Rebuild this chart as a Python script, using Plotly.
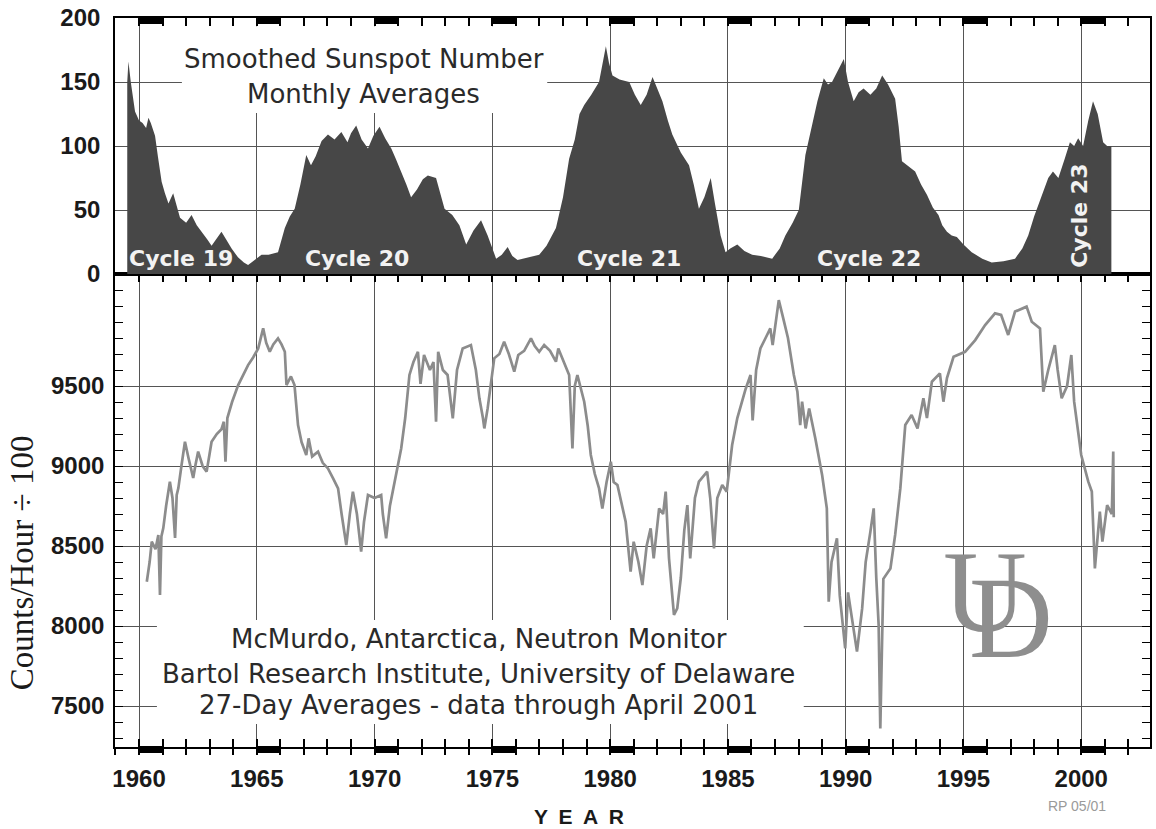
import plotly.graph_objects as go

# ---------------- data ----------------
ss_year = [1959.50, 1959.55, 1959.65, 1959.75, 1959.83, 1960.00, 1960.15, 1960.30, 1960.40, 1960.50,
           1960.68, 1960.80, 1960.96, 1961.10, 1961.25, 1961.45, 1961.60, 1961.74, 1962.00, 1962.23,
           1962.45, 1962.66, 1962.90, 1963.08, 1963.30, 1963.50, 1963.70, 1963.93, 1964.20, 1964.45,
           1964.63, 1964.90, 1965.20, 1965.50, 1965.90, 1966.19, 1966.40, 1966.61, 1966.85, 1967.10,
           1967.30, 1967.50, 1967.75, 1968.02, 1968.30, 1968.59, 1968.85, 1969.00, 1969.22, 1969.45,
           1969.72, 1969.95, 1970.21, 1970.45, 1970.71, 1970.90, 1971.13, 1971.35, 1971.55, 1971.80,
           1972.05, 1972.26, 1972.61, 1972.80, 1972.97, 1973.30, 1973.60, 1973.89, 1974.20, 1974.52,
           1974.80, 1975.16, 1975.40, 1975.65, 1975.85, 1976.07, 1976.50, 1976.99, 1977.30, 1977.70,
           1978.00, 1978.26, 1978.50, 1978.70, 1978.90, 1979.20, 1979.53, 1979.70, 1979.82, 1979.95,
           1980.10, 1980.40, 1980.81, 1981.05, 1981.30, 1981.55, 1981.80, 1982.00, 1982.22, 1982.45,
           1982.64, 1983.00, 1983.35, 1983.55, 1983.77, 1984.00, 1984.27, 1984.45, 1984.69, 1984.90,
           1985.10, 1985.40, 1985.70, 1986.03, 1986.40, 1986.88, 1987.20, 1987.44, 1987.75, 1988.01,
           1988.29, 1988.57, 1988.80, 1989.07, 1989.25, 1989.42, 1989.70, 1989.92, 1990.10, 1990.34,
           1990.55, 1990.76, 1991.05, 1991.30, 1991.55, 1991.80, 1992.10, 1992.25, 1992.39, 1992.60,
           1992.95, 1993.20, 1993.45, 1993.70, 1993.94, 1994.10, 1994.30, 1994.50, 1994.72, 1995.00,
           1995.35, 1995.80, 1996.20, 1996.70, 1997.19, 1997.50, 1997.75, 1998.00, 1998.30, 1998.60,
           1998.80, 1999.03, 1999.30, 1999.52, 1999.70, 1999.87, 2000.08, 2000.30, 2000.50, 2000.70,
           2000.93, 2001.10, 2001.28]
ss_value = [150, 166, 150, 135, 127, 120, 118, 114, 122, 118,
            108, 92, 72, 63, 55, 63, 52, 44, 40, 46,
            38, 33, 27, 22, 28, 33, 27, 20, 13, 9,
            7, 11, 15, 15, 17, 36, 45, 51, 70, 93,
            85, 92, 104, 109, 105, 111, 103, 110, 116, 105,
            98, 108, 115, 106, 98, 90, 80, 70, 60, 66,
            74, 77, 75, 62, 51, 46, 38, 23, 34, 42,
            30, 12, 15, 21, 14, 11, 13, 15, 22, 36,
            60, 90, 105, 125, 132, 140, 150, 165, 178, 165,
            155, 152, 150, 140, 132, 140, 154, 145, 135, 120,
            109, 95, 85, 70, 51, 60, 75, 55, 30, 17,
            20, 23, 18, 15, 14, 12, 20, 30, 40, 50,
            93, 116, 135, 153, 148, 150, 160, 168, 150, 135,
            142, 145, 140, 145, 155, 148, 137, 115, 88, 85,
            80, 70, 62, 52, 46, 38, 33, 30, 29, 23,
            17, 12, 9, 10, 12, 20, 30, 45, 60, 75,
            80, 75, 90, 103, 100, 106, 100, 120, 135, 125,
            103, 100, 100]

nm_year = [1960.33, 1960.45, 1960.54, 1960.70, 1960.82, 1960.89, 1960.95, 1961.03, 1961.15, 1961.31,
           1961.42, 1961.53, 1961.60, 1961.67, 1961.80, 1961.95, 1962.10, 1962.30, 1962.40, 1962.51,
           1962.70, 1962.87, 1963.00, 1963.08, 1963.30, 1963.50, 1963.60, 1963.67, 1963.75, 1963.95,
           1964.21, 1964.45, 1964.63, 1964.85, 1965.06, 1965.27, 1965.40, 1965.55, 1965.70, 1965.90,
           1966.05, 1966.19, 1966.26, 1966.45, 1966.60, 1966.75, 1966.90, 1967.10, 1967.20, 1967.35,
           1967.60, 1967.80, 1968.02, 1968.25, 1968.45, 1968.60, 1968.80, 1968.95, 1969.08, 1969.25,
           1969.43, 1969.55, 1969.72, 1970.00, 1970.28, 1970.35, 1970.49, 1970.65, 1970.85, 1971.13,
           1971.30, 1971.48, 1971.65, 1971.84, 1971.95, 1972.10, 1972.35, 1972.50, 1972.61, 1972.70,
           1972.90, 1973.10, 1973.32, 1973.50, 1973.74, 1974.09, 1974.30, 1974.45, 1974.60, 1974.66,
           1974.80, 1975.08, 1975.30, 1975.50, 1975.70, 1975.93, 1976.10, 1976.35, 1976.64, 1976.80,
           1976.99, 1977.20, 1977.45, 1977.70, 1977.80, 1978.05, 1978.26, 1978.40, 1978.50, 1978.61,
           1978.75, 1978.90, 1979.05, 1979.18, 1979.35, 1979.53, 1979.67, 1979.85, 1980.03, 1980.15,
           1980.31, 1980.50, 1980.66, 1980.87, 1981.00, 1981.20, 1981.37, 1981.55, 1981.72, 1981.85,
           1982.08, 1982.25, 1982.36, 1982.50, 1982.71, 1982.85, 1983.00, 1983.15, 1983.28, 1983.40,
           1983.60, 1983.77, 1984.12, 1984.25, 1984.41, 1984.55, 1984.76, 1984.95, 1985.18, 1985.40,
           1985.60, 1985.75, 1985.96, 1986.05, 1986.20, 1986.38, 1986.60, 1986.80, 1986.90, 1987.16,
           1987.35, 1987.55, 1987.80, 1987.95, 1988.07, 1988.15, 1988.30, 1988.45, 1988.71, 1989.00,
           1989.20, 1989.28, 1989.40, 1989.63, 1989.75, 1989.98, 1990.10, 1990.30, 1990.48, 1990.70,
           1990.85, 1991.05, 1991.19, 1991.30, 1991.40, 1991.47, 1991.60, 1991.90, 1992.10, 1992.32,
           1992.53, 1992.80, 1993.05, 1993.30, 1993.45, 1993.66, 1994.00, 1994.15, 1994.30, 1994.58,
           1995.07, 1995.50, 1995.92, 1996.34, 1996.60, 1996.90, 1997.19, 1997.68, 1997.90, 1998.25,
           1998.39, 1998.60, 1998.88, 1999.00, 1999.17, 1999.40, 1999.58, 1999.70, 2000.00, 2000.30,
           2000.45, 2000.58, 2000.79, 2000.90, 2001.10, 2001.30, 2001.36, 2001.38]
nm_value = [8277, 8400, 8527, 8480, 8569, 8194, 8560, 8612, 8750, 8902,
            8800, 8550, 8820, 8862, 9000, 9152, 9050, 8925, 9010, 9090,
            9000, 8965, 9080, 9152, 9200, 9230, 9277, 9027, 9300, 9400,
            9506, 9580, 9631, 9680, 9735, 9860, 9770, 9714, 9760, 9798,
            9760, 9714, 9506, 9560, 9506, 9256, 9150, 9069, 9173, 9060,
            9090, 9020, 8985, 8920, 8860, 8700, 8506, 8700, 8840, 8700,
            8465, 8650, 8819, 8800, 8819, 8700, 8548, 8750, 8902, 9110,
            9300, 9569, 9650, 9714, 9514, 9694, 9600, 9650, 9277, 9714,
            9600, 9569, 9298, 9600, 9735, 9756, 9600, 9423, 9300, 9235,
            9360, 9673, 9700, 9777, 9700, 9590, 9694, 9720, 9798, 9750,
            9714, 9756, 9720, 9652, 9735, 9650, 9569, 9110, 9500, 9569,
            9480, 9402, 9250, 9069, 8950, 8860, 8735, 8900, 9027, 8900,
            8881, 8750, 8652, 8340, 8527, 8400, 8256, 8500, 8610, 8423,
            8735, 8700, 8840, 8423, 8069, 8110, 8300, 8600, 8756, 8423,
            8800, 8902, 8965, 8800, 8485, 8800, 8881, 8840, 9131, 9300,
            9402, 9480, 9569, 9285, 9600, 9735, 9800, 9860, 9756, 10037,
            9923, 9800, 9569, 9465, 9256, 9402, 9235, 9360, 9173, 8944,
            8735, 8152, 8400, 8548, 8190, 7860, 8210, 8000, 7840, 8110,
            8400, 8590, 8735, 8300, 8006, 7360, 8295, 8360, 8569, 8860,
            9256, 9319, 9235, 9423, 9300, 9527, 9579, 9402, 9550, 9683,
            9714, 9787, 9881, 9954, 9944, 9819, 9965, 9996, 9902, 9860,
            9465, 9600, 9756, 9600, 9423, 9500, 9694, 9402, 9069, 8902,
            8840, 8360, 8715, 8527, 8756, 8700, 9090, 8680]

cycle_labels = ["Cycle 19", "Cycle 20", "Cycle 21", "Cycle 22", "Cycle 23"]
cycle_year = [1961.77, 1969.26, 1980.81, 1991.00, 1999.95]
cycle_value = [12.2, 12.2, 12.2, 12.2, 45.5]

x_tick_years = [1960, 1965, 1970, 1975, 1980, 1985, 1990, 1995, 2000]
ss_ticks = [0, 50, 100, 150, 200]
nm_ticks = [7500, 8000, 8500, 9000, 9500]

top_title = ["Smoothed Sunspot Number", "Monthly Averages"]
bottom_title = ["McMurdo, Antarctica, Neutron Monitor",
                "Bartol Research Institute, University of Delaware",
                "27-Day Averages - data through April 2001"]

# ---------------- styling ----------------
X_RANGE = [1958.98, 2002.92]
SS_RANGE = [0, 200]
NM_RANGE = [7244, 10200]
SPLIT = 473 / 729
GRID = "#555555"
AX = "black"
TICKFONT = dict(family="Liberation Sans", size=24, color="#1a1a1a", weight="bold")
TXT = dict(family="DejaVu Sans", size=26, color="#2a2a2a")

fig = go.Figure()

fig.add_trace(go.Scatter(
    x=ss_year, y=ss_value, xaxis="x2", yaxis="y2", mode="lines",
    line=dict(width=0, color="#474747"), fill="tozeroy", fillcolor="#474747",
    hoverinfo="skip", showlegend=False))

fig.add_trace(go.Scatter(
    x=nm_year, y=nm_value, xaxis="x", yaxis="y", mode="lines",
    line=dict(width=2.7, color="#8c8c8c"), hoverinfo="skip", showlegend=False))

# helper trace so the overlay axis (crossing ticks) is drawn
fig.add_trace(go.Scatter(x=[], y=[], xaxis="x3", yaxis="y", showlegend=False))

minor_x_out = dict(tickmode="linear", tick0=1960, dtick=1, ticks="outside",
                   ticklen=6, tickwidth=1.6, tickcolor=AX, showgrid=False)
minor_x_in = dict(tickmode="linear", tick0=1960, dtick=1, ticks="inside",
                  ticklen=8, tickwidth=1.6, tickcolor=AX, showgrid=False)

fig.update_layout(
    width=1156, height=829,
    margin=dict(l=115, r=4, t=18, b=82),
    paper_bgcolor="white", plot_bgcolor="white",
    showlegend=False,
    xaxis=dict(
        anchor="y", domain=[0, 1], range=X_RANGE, tickmode="array",
        tickvals=x_tick_years, ticktext=[str(v) for v in x_tick_years],
        ticks="outside", ticklen=6, tickwidth=1.6, tickcolor=AX,
        minor=minor_x_out, showgrid=True, gridcolor=GRID, gridwidth=1,
        showline=True, linecolor=AX, linewidth=1.6, zeroline=False,
        tickfont=TICKFONT, ticklabelstandoff=3),
    xaxis3=dict(
        overlaying="x", anchor="y", range=X_RANGE, tickmode="array",
        tickvals=x_tick_years, ticks="inside", ticklen=8, tickwidth=1.6,
        tickcolor=AX, minor=minor_x_in, showticklabels=False, showgrid=False,
        showline=True, linecolor=AX, linewidth=1.6, mirror="ticks", zeroline=False),
    xaxis2=dict(
        anchor="y2", side="top", range=X_RANGE, tickmode="array",
        tickvals=x_tick_years, ticks="inside", ticklen=8, tickwidth=1.6,
        tickcolor=AX, minor=minor_x_in, showticklabels=False, showgrid=True,
        gridcolor=GRID, gridwidth=1, showline=True, linecolor=AX, linewidth=1.6,
        mirror=True, zeroline=False),
    yaxis=dict(
        domain=[0, SPLIT], range=NM_RANGE, tickmode="array", tickvals=nm_ticks,
        ticktext=[str(v) for v in nm_ticks], ticks="inside", ticklen=8,
        tickwidth=1.4, tickcolor=AX,
        minor=dict(tickmode="linear", tick0=7500, dtick=100, ticks="inside",
                   ticklen=8, tickwidth=1.4, tickcolor=AX, showgrid=False),
        showgrid=True, gridcolor=GRID, gridwidth=1, showline=True, linecolor=AX,
        linewidth=1.6, mirror="ticks", zeroline=False, tickfont=TICKFONT,
        ticklabelstandoff=4),
    yaxis2=dict(
        domain=[SPLIT, 1], range=SS_RANGE, tickmode="array", tickvals=ss_ticks,
        ticktext=[str(v) for v in ss_ticks], ticks="", showgrid=True,
        gridcolor=GRID, gridwidth=1, showline=True, linecolor=AX, linewidth=1.6,
        mirror=True, zeroline=False, tickfont=TICKFONT, ticklabelstandoff=8),
)

shapes = []
# white boxes behind the two text blocks (cover the grid only)
shapes.append(dict(type="rect", xref="x2", yref="y2", x0=1961.82, x1=1977.33,
                   y0=125.8, y1=193.5, fillcolor="white", line=dict(width=0),
                   layer="between"))
shapes.append(dict(type="rect", xref="x", yref="y", x0=1960.76, x1=1988.22,
                   y0=7388, y1=8037, fillcolor="white", line=dict(width=0),
                   layer="between"))
# thick year bars at the labelled years
for yr in x_tick_years:
    shapes.append(dict(type="rect", xref="x", yref="y domain", x0=yr, x1=yr + 1,
                       ysizemode="pixel", yanchor=0, y0=-6, y1=1,
                       fillcolor="black", line=dict(width=0), layer="above"))
    shapes.append(dict(type="rect", xref="x2", yref="y2 domain", x0=yr, x1=yr + 1,
                       ysizemode="pixel", yanchor=1, y0=-6, y1=0,
                       fillcolor="black", line=dict(width=0), layer="above"))
fig.update_layout(shapes=shapes)

ann = []
for lab, xv, yv in zip(cycle_labels, cycle_year, cycle_value):
    ann.append(dict(x=xv, y=yv, xref="x2", yref="y2", text=lab, showarrow=False,
                    textangle=-90 if lab.endswith("23") else 0,
                    font=dict(family="DejaVu Sans", size=22, color="#f2f2f2",
                              weight="bold"),
                    xanchor="center", yanchor="middle"))

for i, line in enumerate(top_title):
    ann.append(dict(x=1969.53, y=[168.0, 140.6][i], xref="x2", yref="y2",
                    text=line, showarrow=False, font=TXT,
                    xanchor="center", yanchor="middle"))
for i, line in enumerate(bottom_title):
    ann.append(dict(x=1974.43, y=[7919, 7702, 7506][i], xref="x", yref="y",
                    text=line, showarrow=False, font=TXT,
                    xanchor="center", yanchor="middle"))

ann.append(dict(x=0.4484, y=-0.096, xref="paper", yref="paper",
                text="Y\u2002E\u2002A\u2002R", showarrow=False,
                font=dict(family="Liberation Sans", size=21, color="#1a1a1a",
                          weight="bold"),
                xanchor="center", yanchor="middle"))
ann.append(dict(x=-0.0897, y=0.2524, xref="paper", yref="paper",
                text="Counts/Hour \u00f7 100", showarrow=False, textangle=-90,
                font=dict(family="Liberation Serif", size=33, color="#1a1a1a"),
                xanchor="center", yanchor="middle"))
ann.append(dict(x=0.9296, y=-0.0809, xref="paper", yref="paper",
                text="RP 05/01", showarrow=False,
                font=dict(family="Liberation Sans", size=14, color="#9a9a9a"),
                xanchor="center", yanchor="middle"))
# UD logo
ann.append(dict(x=0.8404, y=0.2133, xref="paper", yref="paper", text="U",
                showarrow=False,
                font=dict(family="Liberation Serif", size=116, color="#8e8e8e"),
                xanchor="center", yanchor="middle"))
ann.append(dict(x=0.8655, y=0.1763, xref="paper", yref="paper", text="D",
                showarrow=False,
                font=dict(family="Liberation Serif", size=116, color="#8e8e8e"),
                xanchor="center", yanchor="middle"))
fig.update_layout(annotations=ann)

fig.write_html("out.html")
